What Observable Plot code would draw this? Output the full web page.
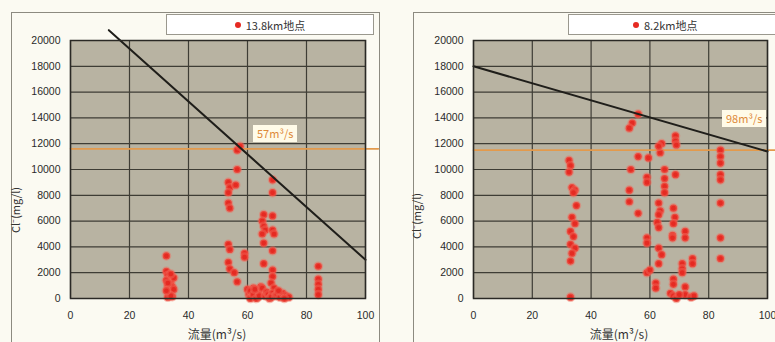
<!DOCTYPE html>
<html>
<head>
<meta charset="utf-8">
<script src="https://cdn.jsdelivr.net/npm/d3@7"></script>
<script src="https://cdn.jsdelivr.net/npm/@observablehq/plot@0.6"></script>
<style>
  html, body { margin: 0; padding: 0; background: #fbfaf2; }
  #wrap { position: relative; width: 775px; height: 342px; overflow: hidden; background: #fbfaf2;
          font-family: "Noto Sans CJK JP", "Liberation Sans", sans-serif; }
  .border { position: absolute; border: 1px solid #8c8a80; border-bottom: none; }
  .plotbox { position: absolute; top: 0; }
  .legend { position: absolute; background: #ffffff; border: 1px solid #9a988e; font-size: 11px; color: #333;
            display: flex; align-items: center; justify-content: center; box-sizing: border-box; }
  .legend .dot { display: inline-block; width: 6px; height: 6px; border-radius: 50%; background: #e62a22; margin-right: 5px; }
  .ylab { position: absolute; font-size: 11px; color: #333; transform: rotate(-90deg); transform-origin: center center; white-space: nowrap; }
  .xlab { position: absolute; font-size: 12px; color: #333; white-space: nowrap; transform: translateX(-50%); }
  .ann { position: absolute; background: #fffbe8; color: #de8a38; font-size: 11px; padding: 0 4px; line-height: 17px; white-space: nowrap; }
</style>
</head>
<body>
<div id="wrap">
  <div class="border" style="left:11px;top:12px;width:367px;height:340px;"></div>
  <div class="border" style="left:413px;top:12px;width:400px;height:340px;"></div>
  <div id="p1" class="plotbox" style="left:0px;"></div>
  <div id="p2" class="plotbox" style="left:388px;"></div>
  <div class="legend" style="left:166px;top:14px;width:208px;height:21px;"><span class="dot"></span><span id="lg1"></span></div>
  <div class="legend" style="left:568px;top:14px;width:220px;height:21px;justify-content:flex-start;padding-left:64px;"><span class="dot"></span><span id="lg2"></span></div>
  <div class="ylab" style="left:-8px;top:202px;" id="yl1"></div>
  <div class="ylab" style="left:393px;top:208px;" id="yl2"></div>
  <div class="xlab" style="left:217px;top:325px;" id="xl1"></div>
  <div class="xlab" style="left:619px;top:325px;" id="xl2"></div>
  <div class="ann" style="left:253px;top:125px;" id="an1"></div>
  <div class="ann" style="left:722px;top:110px;" id="an2"></div>
</div>
<script>
// ---- tick labels / texts ----
const xTicks = [0, 20, 40, 60, 80, 100];
const yTicks = [0, 2000, 4000, 6000, 8000, 10000, 12000, 14000, 16000, 18000, 20000];
const seriesNames = ["13.8km地点", "8.2km地点"];
const yTitle = "Cl⁻(mg/l)";
const xTitle = "流量(m³/s)";
const thresholdLabels = ["57m³/s", "98m³/s"];

// ---- 13.8km point data ----
const leftX = [32.5,32.5,33,33.5,34,33,34.5,33,34,33.5,34.5,33,35,35,32.5,33,34,34,32.5,
  53.5,54,53.5,56,53.5,54,53.5,54,53.5,54,55.5,56.5,56.5,56.5,57.5,
  59,59,
  60,60.5,61,61.5,62,62.5,63,63.5,64,64.5,61,61,62,63,64,62.5,
  65.5,65,65.5,66,65,65.5,65.5,65,66,66.5,67,67.5,
  68.5,68.5,68.5,68.5,69,68.5,68.5,68.5,68,69,68.5,68,69.5,
  70,71,72,73,74,72.5,70.5,
  84,84,84,84,84];
const leftY = [3300,2100,1800,1500,1300,1000,900,700,500,300,150,100,1600,700,1400,1200,1900,200,600,
  9000,8600,8200,8800,7400,7000,4200,3800,2800,2300,2000,1300,10000,11500,11800,
  3500,3200,
  700,300,100,500,800,200,600,100,400,900,0,600,300,0,200,700,
  6500,6000,5600,5300,5000,4300,2700,800,200,500,300,0,
  9200,8200,6400,5300,5000,3700,2200,1700,1200,800,400,100,200,
  300,100,400,200,100,0,600,
  2500,1500,1100,700,300];

// ---- 8.2km point data ----
const rightX = [32.5,33,32.5,33.5,34.5,34,35,33.5,34.5,33,34,33,34.5,33.5,33,33,
  56,54,53,53.5,53,53,56,56,
  59.5,59,59,59,59,59,60,
  64,63.5,63,65,65,65,65,63,63.5,63,62.5,63,63,64,63,62,62,
  68.7,68.7,69,68.7,68,68.5,68,67.7,67.7,68,68,67,68,69,
  72,72,71,71,71,74.5,74.5,72,72,74,75,70,
  84,84,84,84,84,84,84,84];
const rightY = [10700,10300,9800,8600,8400,8200,7200,6300,5800,5200,4800,4200,3900,3500,2900,100,
  14300,13600,13200,10000,8400,7500,6600,11000,
  10900,9400,9000,4700,4300,2000,2200,
  12000,11300,11800,10000,9300,8700,8200,7400,6800,6500,5900,5500,3900,3400,2700,1200,800,
  12600,12200,11900,9600,7000,6300,5800,4900,4700,1500,1100,400,200,0,
  5200,4700,2700,2300,2000,3100,2700,900,300,100,200,300,
  11500,11000,10500,9600,9200,7400,4700,3100];

// ---- boundary (black) lines and threshold (orange) lines ----
const leftLineX = [13, 100], leftLineY = [20800, 3000];
const rightLineX = [0, 100], rightLineY = [18000, 11400];
const leftThreshX = [0, 104.4], leftThreshY = [11600, 11600];
const rightThreshX = [0, 103], rightThreshY = [11500, 11500];

function zip(xs, ys) { return xs.map((x, i) => ({x, y: ys[i]})); }

function panel(opts) {
  return Plot.plot({
    width: 387, height: 342,
    marginLeft: opts.mL, marginRight: opts.mR, marginTop: 40, marginBottom: 44,
    x: {domain: [0, 100]},
    y: {domain: [0, 20000]},
    style: {background: "transparent", overflow: "visible", fontFamily: "'Liberation Sans', sans-serif", fontSize: "10.5px", color: "#2a2a2a"},
    marks: [
      Plot.frame({fill: "#b8b3a2"}),
      Plot.gridY(yTicks, {stroke: "#3e3d35", strokeOpacity: 1, strokeWidth: 1.2}),
      Plot.gridX(xTicks, {stroke: "#3e3d35", strokeOpacity: 1, strokeWidth: 1.2}),
      Plot.axisY(yTicks, {tickSize: 0, tickPadding: 10, label: null, tickFormat: d3.format("d")}),
      Plot.axisX(xTicks, {tickSize: 0, tickPadding: 13, label: null, tickFormat: d3.format("d")}),
      Plot.line(zip(opts.tx, opts.ty), {x: "x", y: "y", stroke: "#e39a4c", strokeWidth: 1.6}),
      Plot.dot(zip(opts.px, opts.py), {x: "x", y: "y", r: 3.6, fill: "#e52a22", stroke: "#f26a5a", strokeOpacity: 0.45, strokeWidth: 2.5}),
      Plot.line(zip(opts.lx, opts.ly), {x: "x", y: "y", stroke: "#1f1e1a", strokeWidth: 2}),
      Plot.frame({stroke: "#2a2925", strokeWidth: 1.5})
    ]
  });
}

document.getElementById("p1").appendChild(panel({mL: 70, mR: 22, px: leftX, py: leftY, lx: leftLineX, ly: leftLineY, tx: leftThreshX, ty: leftThreshY}));
document.getElementById("p2").appendChild(panel({mL: 85, mR: 8, px: rightX, py: rightY, lx: rightLineX, ly: rightLineY, tx: rightThreshX, ty: rightThreshY}));

document.getElementById("lg1").textContent = seriesNames[0];
document.getElementById("lg2").textContent = seriesNames[1];
document.getElementById("yl1").textContent = yTitle;
document.getElementById("yl2").textContent = yTitle;
document.getElementById("xl1").textContent = xTitle;
document.getElementById("xl2").textContent = xTitle;
document.getElementById("an1").textContent = thresholdLabels[0];
document.getElementById("an2").textContent = thresholdLabels[1];
</script>
</body>
</html>
